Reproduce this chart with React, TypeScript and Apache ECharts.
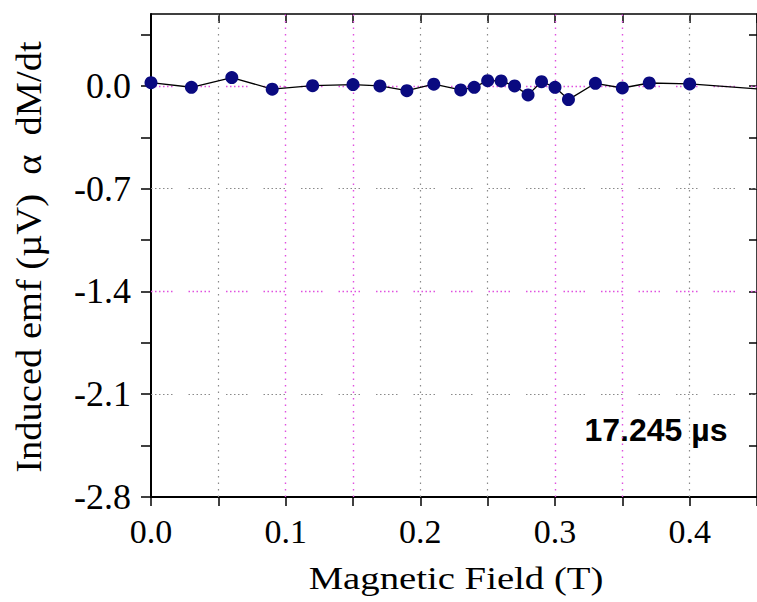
import React, { useEffect, useRef } from "react";
import * as echarts from "echarts";

// Data
const fieldT = [0.0, 0.03, 0.06, 0.09, 0.12, 0.15, 0.17, 0.19, 0.21, 0.23, 0.24, 0.25, 0.26, 0.27, 0.28, 0.29, 0.3, 0.31, 0.33, 0.35, 0.37, 0.4, 0.45];
const emfValues = [0.022, -0.009, 0.057, -0.022, 0.002, 0.009, 0.0, -0.032, 0.012, -0.027, -0.009, 0.036, 0.034, 0.0, -0.061, 0.029, -0.009, -0.093, 0.018, -0.014, 0.02, 0.014, -0.02];
const markerless = [0.45];

const xTickValues = [0, 0.05, 0.1, 0.15, 0.2, 0.25, 0.3, 0.35, 0.4, 0.45];
const xLabelValues = [0, 0.1, 0.2, 0.3, 0.4];
const yTickValues = [-2.8, -2.45, -2.1, -1.75, -1.4, -1.05, -0.7, -0.35, 0, 0.35];
const yLabelValues = [-2.8, -2.1, -1.4, -0.7, 0];

const vGridGray = [0.05, 0.2, 0.25, 0.4];
const vGridMagenta = [0.1, 0.15, 0.3, 0.35];
const hGridGray = [-0.7, -2.1];
const hGridMagenta = [0, -1.4];

const timeLabel = "17.245 µs";
const xTitle = "Magnetic Field (T)";
const yTitle = "Induced emf (µV)  α  dM/dt";

const GRAY = "#8a8a8a";
const MAGENTA = "#e050e0";
const HDASH = [1.5, 2.5, 1.5, 2.5, 1.5, 2.5, 1.5, 2.5, 1.5, 2.5, 1.5, 16];
const VDASH = [1.5, 5];

export default function App() {
  const ref = useRef<HTMLDivElement>(null);
  useEffect(() => {
    if (!ref.current) return;
    const chart = echarts.init(ref.current, null, { renderer: "svg" });
    const data = fieldT.map((x, i) =>
      markerless.includes(x)
        ? { value: [x, emfValues[i]], symbol: "none" }
        : { value: [x, emfValues[i]] }
    );
    const markData: any[] = [
      ...vGridGray.map((v) => ({ xAxis: v, lineStyle: { color: GRAY, type: VDASH, width: 1.2 } })),
      ...vGridMagenta.map((v) => ({ xAxis: v, lineStyle: { color: MAGENTA, type: VDASH, width: 1.4 } })),
      ...hGridGray.map((v) => ({ yAxis: v, lineStyle: { color: GRAY, type: HDASH, width: 1.2 } })),
      ...hGridMagenta.map((v) => ({ yAxis: v, lineStyle: { color: MAGENTA, type: HDASH, width: 1.4 } })),
    ];
    const serif = "'Liberation Serif', 'Times New Roman', serif";
    const axisLineStyle = { color: "#000", width: 2 };
    chart.setOption({
      animation: false,
      backgroundColor: "#fff",
      grid: { left: 151, top: 14, width: 611, height: 483 },
      xAxis: [
        {
          type: "value",
          position: "bottom",
          min: 0,
          max: 0.45,
          axisLine: { show: true, onZero: false, lineStyle: axisLineStyle },
          axisTick: { show: true, inside: false, length: 9, customValues: xTickValues, lineStyle: { color: "#000", width: 1.5 } },
          axisLabel: {
            customValues: xLabelValues,
            formatter: (v: number) => v.toFixed(1),
            fontFamily: serif,
            fontSize: 34,
            color: "#000",
            margin: 17,
          },
          splitLine: { show: false },
        },
        {
          type: "value",
          position: "top",
          min: 0,
          max: 0.45,
          axisLine: { show: true, onZero: false, lineStyle: { color: "#000", width: 1.5 } },
          axisTick: { show: true, inside: true, length: 9, customValues: xTickValues, lineStyle: { color: "#000", width: 1.5 } },
          axisLabel: { show: false },
          splitLine: { show: false },
        },
      ],
      yAxis: [
        {
          type: "value",
          position: "left",
          min: -2.8,
          max: 0.49,
          axisLine: { show: true, onZero: false, lineStyle: axisLineStyle },
          axisTick: { show: true, inside: false, length: 10, customValues: yTickValues, lineStyle: { color: "#000", width: 1.5 } },
          axisLabel: {
            customValues: yLabelValues,
            formatter: (v: number) => v.toFixed(1),
            fontFamily: serif,
            fontSize: 36,
            color: "#000",
            margin: 20,
          },
          splitLine: { show: false },
        },
        {
          type: "value",
          position: "right",
          min: -2.8,
          max: 0.49,
          axisLine: { show: true, onZero: false, lineStyle: { color: "#000", width: 1.5 } },
          axisTick: { show: true, inside: true, length: 8, customValues: yTickValues, lineStyle: { color: "#000", width: 1.5 } },
          axisLabel: { show: false },
          splitLine: { show: false },
        },
      ],
      series: [
        {
          type: "scatter",
          data: [],
          z: 1,
          silent: true,
          markLine: {
            silent: true,
            symbol: ["none", "none"],
            label: { show: false },
            emphasis: { disabled: true },
            data: markData,
          },
        },
        {
          type: "line",
          z: 5,
          data,
          symbol: "circle",
          symbolSize: 13,
          showAllSymbol: true,
          itemStyle: { color: "#0a0a80" },
          lineStyle: { color: "#000", width: 1.3 },
          clip: true,
        },
      ],
      graphic: [
        {
          type: "text",
          x: 29,
          y: 257,
          rotation: Math.PI / 2,
          scaleX: 1.1,
          style: {
            text: yTitle,
            font: "35px 'Liberation Serif', serif",
            fill: "#000",
            textAlign: "center",
            textVerticalAlign: "middle",
          },
        },
        {
          type: "text",
          x: 456,
          y: 579,
          scaleX: 1.25,
          style: {
            text: xTitle,
            font: "31px 'Liberation Serif', serif",
            fill: "#000",
            textAlign: "center",
            textVerticalAlign: "middle",
          },
        },
        {
          type: "text",
          x: 656,
          y: 430,
          style: {
            text: timeLabel,
            font: "bold 32px 'Liberation Sans', Arial, sans-serif",
            fill: "#000",
            textAlign: "center",
            textVerticalAlign: "middle",
          },
        },
      ],
    });
    return () => chart.dispose();
  }, []);
  return (
    <div
      ref={ref}
      style={{ position: "fixed", left: 0, top: 0, width: 757, height: 602, background: "#fff" }}
    />
  );
}
